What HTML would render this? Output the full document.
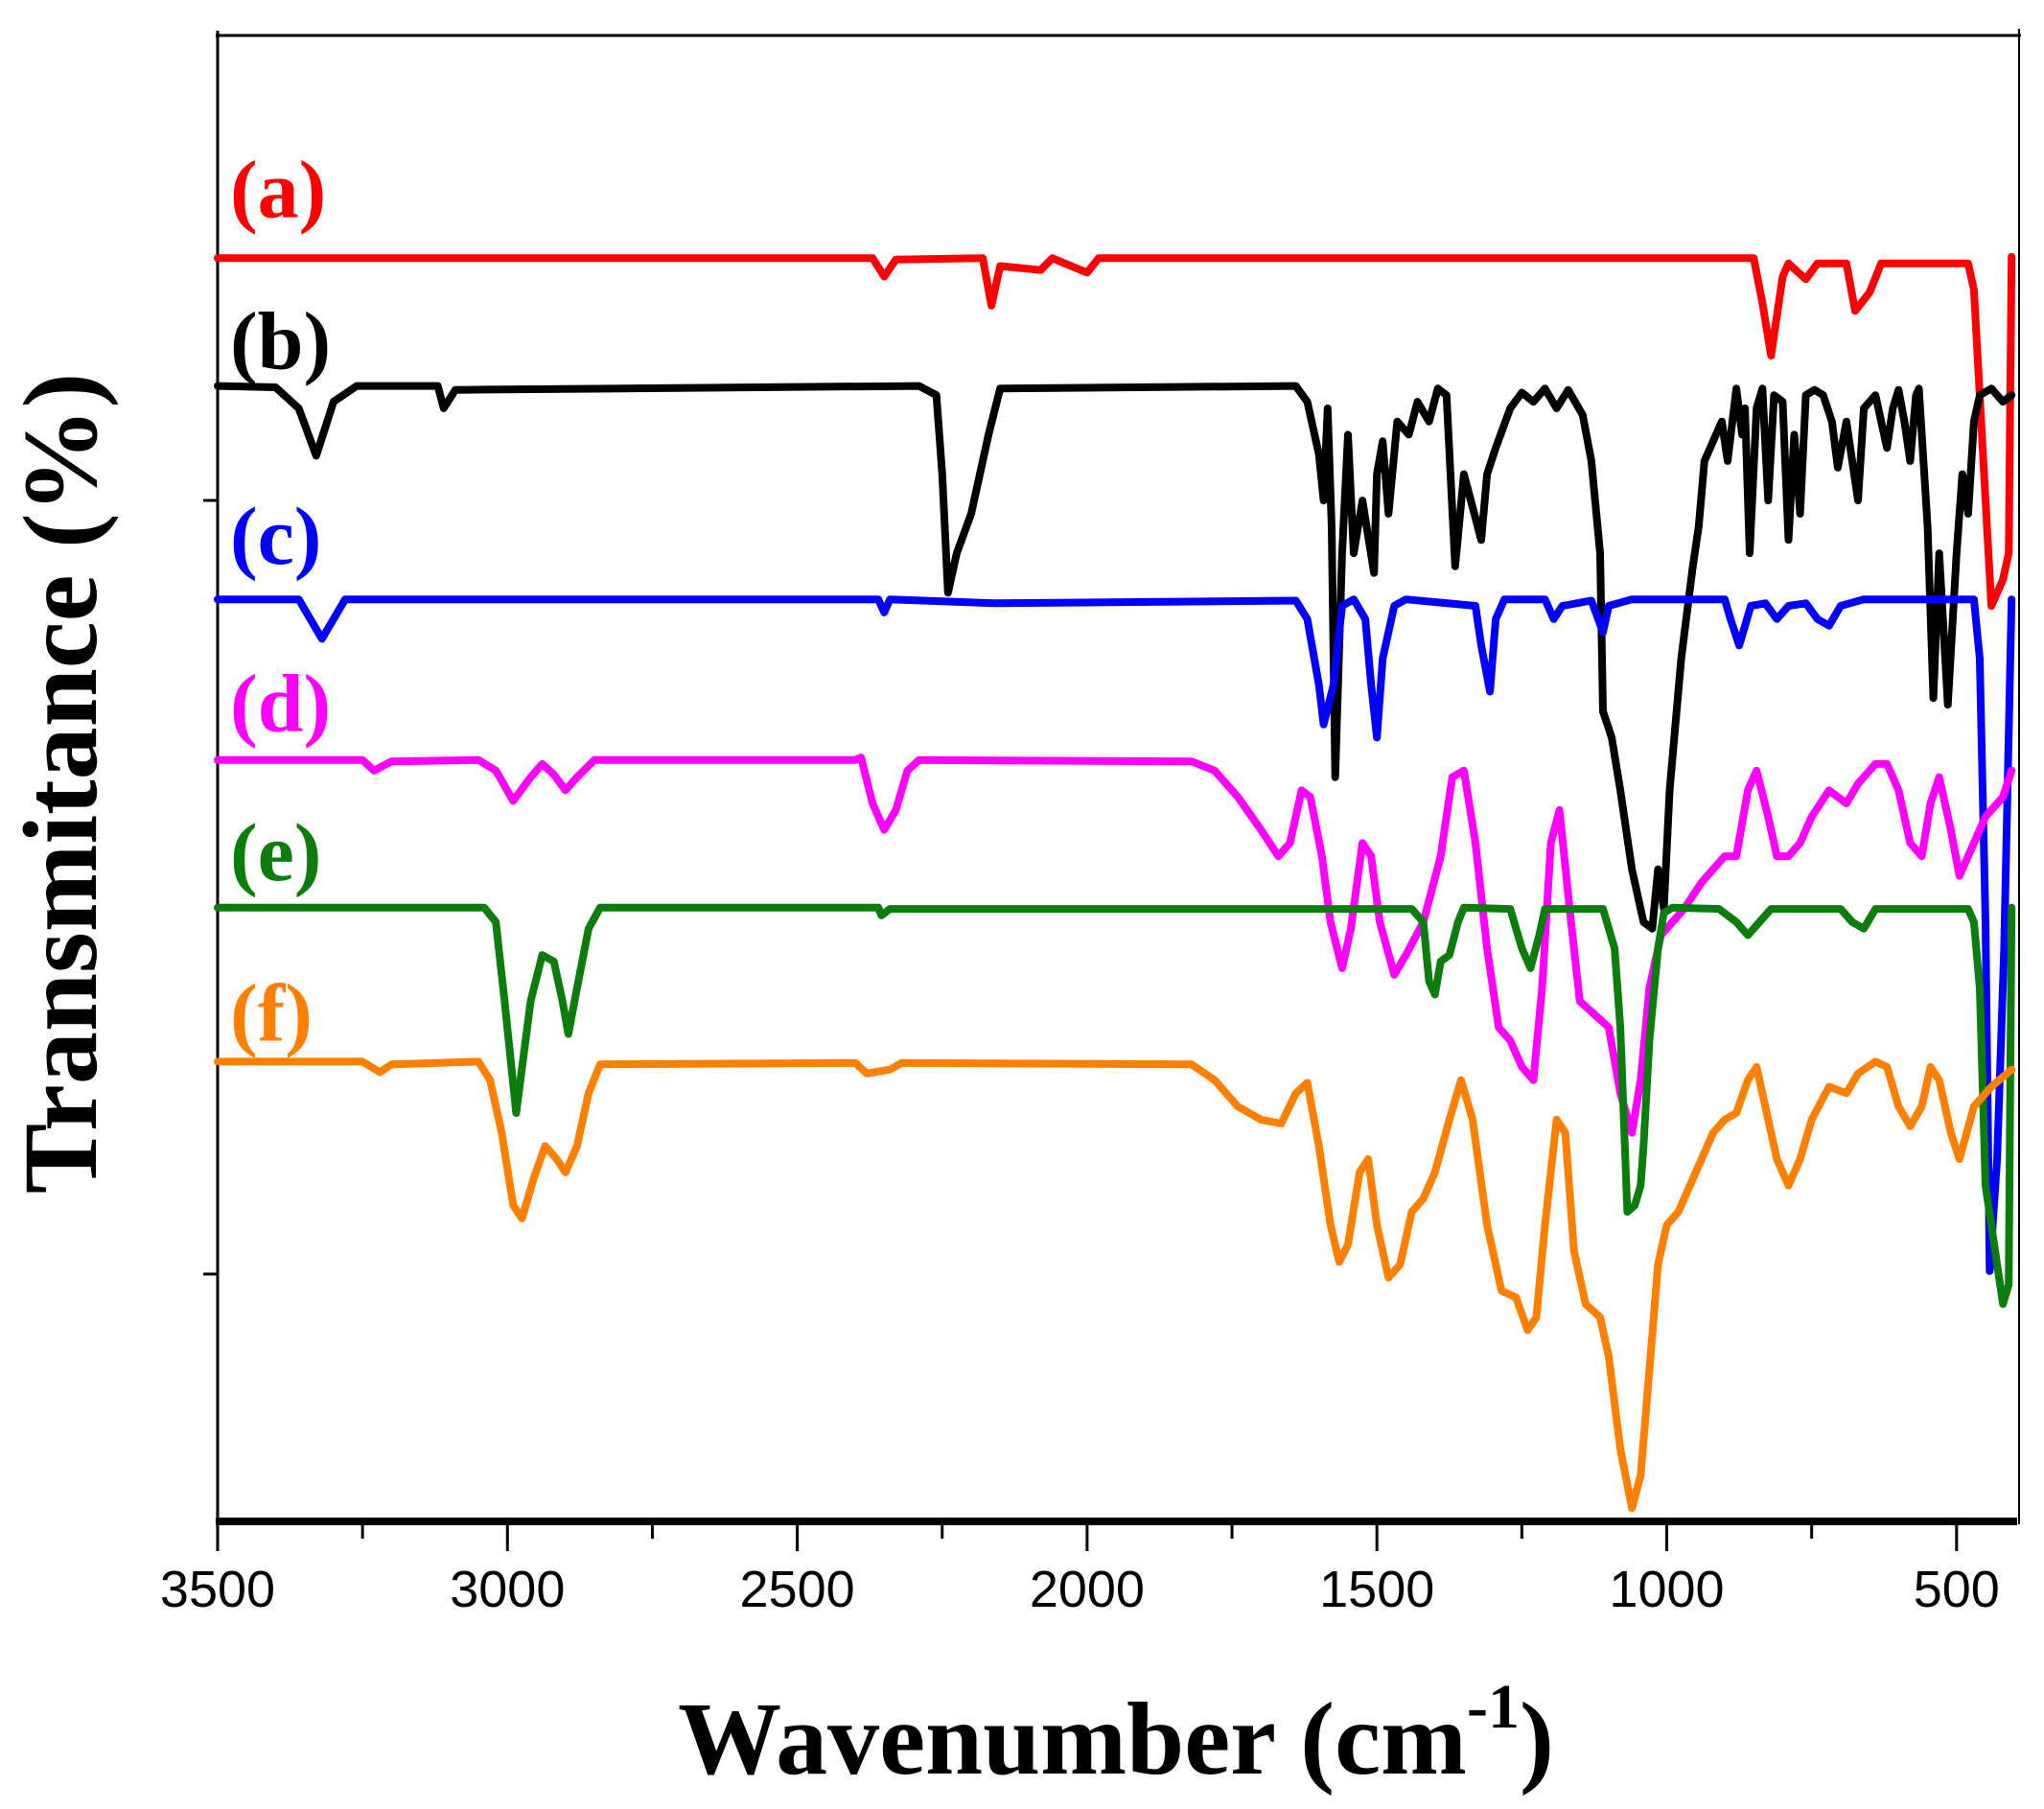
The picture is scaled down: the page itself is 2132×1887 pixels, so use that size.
<!DOCTYPE html>
<html><head><meta charset="utf-8"><style>
html,body{margin:0;padding:0;background:#fff;}
svg{display:block;}
</style></head><body>
<svg id="chart" width="2132" height="1887" viewBox="0 0 2132 1887" xmlns="http://www.w3.org/2000/svg">
<g id="axes"></g>
<g id="series"></g>
<g id="labels"></g>
<text x="1164" y="1850" text-anchor="middle" font-family="Liberation Serif, serif" font-weight="bold" font-size="108">Wavenumber (cm<tspan dy="-48" font-size="66">-1</tspan><tspan dy="48">)</tspan></text>
<text transform="translate(100,817) rotate(-90)" text-anchor="middle" font-family="Liberation Serif, serif" font-weight="bold" font-size="110">Transmitance (%)</text>
</svg>
<script>
const xTicks=[3500,3000,2500,2000,1500,1000,500];
const xMinor=[3250,2750,2250,1750,1250,750];
const seriesNames=['(a)','(b)','(c)','(d)','(e)','(f)'];
const seriesColors=['#ff0000','#000000','#0000ff','#ff00ff','#0a7d0a','#ff8000'];
// values: offset transmittance (arbitrary units), pairs [wavenumber, value]
const sA=[[3500,1004],[2370,1004],[2350,990],[2330,1003],[2180,1004],[2165,968],[2150,998],[2080,995],[2060,1004],[2000,993],[1980,1004],[850,1004],[835,970],[820,930],[800,990],[790,1000],[760,988],[740,1000],[690,1000],[675,964],[650,978],[630,1000],[480,1000],[470,980],[455,860],[440,740],[420,760],[410,780],[405,1005]];
const sB=[[3500,907],[3400,906],[3360,890],[3330,854],[3300,895],[3260,907],[3120,907],[3110,890],[3090,904],[2290,907],[2260,900],[2250,840],[2240,750],[2225,780],[2200,810],[2170,870],[2150,905],[1640,907],[1620,895],[1600,855],[1592,820],[1585,890],[1578,800],[1572,610],[1560,780],[1550,870],[1540,780],[1525,820],[1505,765],[1500,840],[1490,865],[1480,810],[1465,880],[1445,870],[1430,895],[1410,880],[1395,905],[1380,900],[1365,770],[1350,840],[1320,790],[1310,840],[1295,860],[1270,890],[1250,902],[1230,895],[1210,905],[1190,890],[1170,904],[1145,885],[1130,850],[1115,780],[1110,660],[1095,640],[1080,600],[1060,540],[1040,500],[1025,495],[1015,540],[1005,510],[995,600],[975,700],[955,770],[945,800],[935,850],[905,880],[895,850],[880,905],[870,870],[865,890],[857,780],[845,890],[835,905],[825,820],[815,900],[800,895],[790,790],[780,870],[770,810],[760,900],[745,904],[730,900],[715,880],[705,845],[690,880],[670,820],[660,890],[640,900],[620,860],[610,890],[600,904],[590,880],[580,850],[570,900],[565,905],[550,800],[540,670],[530,780],[515,665],[500,780],[490,840],[480,810],[470,880],[460,900],[440,905],[420,895],[405,900]];
const sC=[[3500,745],[3360,745],[3340,730],[3320,715],[3300,730],[3280,745],[2360,745],[2350,735],[2340,745],[2160,742],[1640,744],[1620,730],[1600,680],[1592,650],[1575,680],[1560,740],[1540,745],[1520,730],[1510,680],[1500,640],[1490,700],[1470,740],[1450,745],[1330,740],[1320,710],[1305,675],[1295,730],[1280,745],[1210,745],[1195,730],[1180,740],[1130,744],[1110,720],[1100,740],[1060,745],[900,745],[890,730],[875,710],[855,740],[830,742],[810,730],[790,740],[760,742],[740,730],[720,725],[700,740],[660,745],[470,745],[460,700],[450,500],[443,235],[430,320],[418,480],[405,745]];
const sD=[[3500,623],[3250,623],[3230,615],[3200,622],[3050,623],[3020,615],[2990,592],[2960,610],[2940,620],[2920,612],[2900,600],[2880,610],[2850,623],[2400,623],[2390,625],[2370,590],[2350,570],[2330,585],[2310,615],[2290,623],[1820,622],[1780,615],[1740,595],[1700,570],[1670,550],[1650,560],[1630,600],[1615,595],[1595,550],[1580,500],[1560,465],[1545,495],[1525,560],[1510,550],[1495,500],[1470,460],[1450,475],[1420,500],[1390,550],[1370,610],[1350,615],[1330,560],[1310,480],[1290,420],[1270,410],[1250,390],[1230,380],[1215,450],[1200,560],[1185,585],[1165,500],[1150,440],[1125,430],[1100,420],[1080,370],[1060,340],[1045,380],[1030,450],[1010,490],[990,500],[970,510],[940,530],[920,540],[900,550],[880,550],[860,600],[845,615],[825,580],[810,550],[790,550],[770,560],[750,580],[720,600],[690,590],[670,605],[640,620],[620,620],[600,600],[580,560],[560,550],[545,590],[530,610],[510,570],[495,535],[470,560],[450,580],[420,595],[405,615]];
const sE=[[3500,511],[3040,511],[3020,500],[3005,440],[2985,355],[2960,440],[2940,475],[2920,470],[2905,440],[2895,415],[2880,450],[2860,495],[2840,511],[2360,511],[2355,505],[2340,510],[1440,510],[1420,500],[1410,455],[1400,445],[1390,470],[1375,475],[1360,500],[1350,511],[1270,510],[1250,480],[1235,465],[1220,490],[1210,510],[1110,510],[1090,480],[1080,420],[1068,280],[1055,285],[1045,300],[1040,330],[1030,410],[1015,480],[1005,507],[990,511],[910,510],[880,500],[860,490],[840,500],[820,510],[700,510],[680,500],[660,495],[640,510],[480,510],[470,500],[460,450],[450,300],[430,240],[420,210],[410,225],[405,511]];
const sF=[[3500,394],[3250,394],[3220,386],[3200,392],[3050,394],[3030,380],[3010,340],[2990,285],[2975,275],[2955,305],[2935,330],[2915,320],[2900,310],[2880,330],[2860,370],[2840,392],[2400,393],[2380,385],[2340,388],[2320,393],[1820,392],[1780,380],[1740,360],[1700,350],[1665,347],[1640,370],[1620,378],[1600,330],[1580,270],[1565,242],[1550,255],[1530,310],[1515,320],[1500,270],[1480,230],[1460,240],[1440,280],[1420,290],[1400,310],[1375,350],[1355,380],[1335,350],[1310,270],[1285,220],[1260,215],[1240,190],[1225,200],[1210,270],[1190,350],[1175,340],[1160,250],[1140,210],[1115,200],[1100,170],[1080,100],[1060,55],[1045,80],[1030,160],[1015,240],[1000,270],[980,280],[960,300],[940,320],[920,340],[900,350],[880,355],[860,380],[845,390],[830,360],[810,320],[790,300],[770,320],[750,350],[720,375],[690,370],[670,385],[640,394],[620,390],[600,360],[580,345],[560,360],[545,390],[530,380],[510,340],[495,320],[470,360],[440,375],[405,388]];
const allSeries=[sA,sB,sC,sD,sE,sF];
const labelValues=[1035,920,772,645,532,410];

const NS='http://www.w3.org/2000/svg';
const X0=227, PX=0.6046; // 3500 -> 227
function xScale(w){return X0+(3500-w)*PX;}
function yScale(v){return (1200-v)*1.374;}
const axes=document.getElementById('axes');
function mk(tag,attrs,parent){const e=document.createElementNS(NS,tag);for(const k in attrs)e.setAttribute(k,attrs[k]);parent.appendChild(e);return e;}

let e;
e=mk('line',{x1:227,y1:32,x2:227,y2:1590,stroke:'#000','stroke-width':3},axes);


e=mk('line',{x1:225,y1:37,x2:2108,y2:37,stroke:'#000','stroke-width':3},axes);


e=mk('line',{x1:2106,y1:30,x2:2106,y2:1590,stroke:'#000','stroke-width':2},axes);


e=mk('line',{x1:225,y1:1587,x2:2104,y2:1587,stroke:'#000','stroke-width':8},axes);


[522,1329].forEach(function(y){
  e=mk('line',{x1:212,y1:y,x2:227,y2:y,stroke:'#000','stroke-width':3},axes);
  
  
});
xTicks.forEach(function(t){
  const x=xScale(t);
  e=mk('line',{x1:x,y1:1587,x2:x,y2:1618,stroke:'#000','stroke-width':3},axes);
  
  
  e=mk('text',{x:x,y:1676,'text-anchor':'middle','font-family':'Liberation Sans, sans-serif','font-size':54},axes);
  e.textContent=t;
  
  
});
xMinor.forEach(function(t){
  const x=xScale(t);
  e=mk('line',{x1:x,y1:1587,x2:x,y2:1605,stroke:'#000','stroke-width':3},axes);
  
  
});
const sg=document.getElementById('series');
const lg=document.getElementById('labels');
allSeries.forEach(function(s,i){
  const d=s.map(function(p,j){return (j?'L':'M')+xScale(p[0]).toFixed(1)+','+yScale(p[1]).toFixed(1);}).join('');
  e=mk('path',{d:d,fill:'none',stroke:seriesColors[i],'stroke-width':8,'stroke-linejoin':'round','stroke-linecap':'round'},sg);
  
  
  e=mk('text',{x:240,y:yScale(labelValues[i]),fill:seriesColors[i],'font-family':'Liberation Serif, serif','font-weight':'bold','font-size':86},lg);
  e.textContent=seriesNames[i];
  
  
});
</script>
</body></html>
